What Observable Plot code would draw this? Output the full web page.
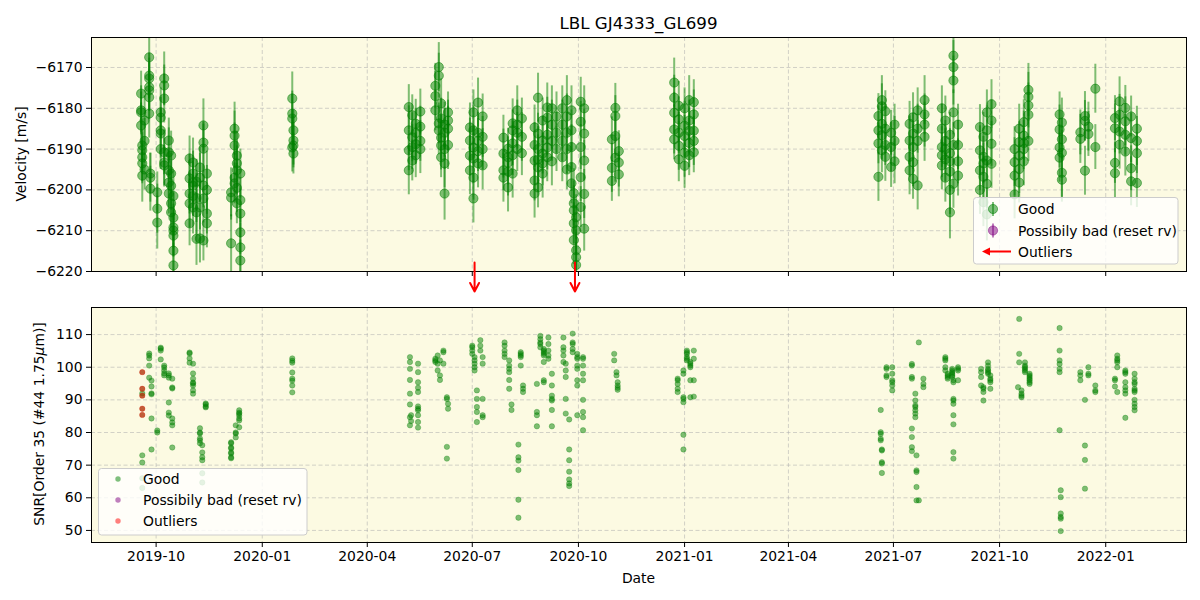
<!DOCTYPE html>
<html><head><meta charset="utf-8">
<script src="https://cdn.jsdelivr.net/npm/d3@7"></script>
<script src="https://cdn.jsdelivr.net/npm/@observablehq/plot@0.6"></script>
<style>
body{margin:0;background:#fff;}
#wrap{position:relative;width:1200px;height:600px;font-family:"DejaVu Sans",sans-serif;}
#wrap > svg, #wrap > div{position:absolute;left:0;}
</style></head><body><div id="wrap"></div>
<script>
// ---------- DATA ----------
const chartTitle = "LBL GJ4333_GL699";
const monthTickLabels = ["2019-10","2020-01","2020-04","2020-07","2020-10","2021-01","2021-04","2021-07","2021-10","2022-01"];
const rvTicks = [-6220,-6210,-6200,-6190,-6180,-6170];
const snrTicks = [50,60,70,80,90,100,110];
const dateRange = ["2019-08-06","2022-03-12"];
const rvRange = [-6220,-6162.65];
const snrRange = [46.3,118.3];
const outlierDates = ["2020-07-03","2020-09-28"];

// velocity: [date, rv, err]
const rv2019 = [
["2019-09-18",-6176.4,5.5],["2019-09-18",-6180.5,6],["2019-09-18",-6181,5],["2019-09-18",-6184.2,5.5],
["2019-09-19",-6189.1,6.5],["2019-09-19",-6190.3,5],["2019-09-19",-6192,6],["2019-09-19",-6193.5,5],["2019-09-19",-6196.5,6.5],
["2019-09-21",-6195,5],["2019-09-21",-6183,6],["2019-09-21",-6188,5.5],
["2019-09-25",-6167.5,6],["2019-09-25",-6172,5.5],["2019-09-25",-6172.7,5],["2019-09-25",-6174.8,6],["2019-09-25",-6175.6,5],["2019-09-25",-6177.3,5.5],["2019-09-25",-6181.3,6],
["2019-09-26",-6196,5],["2019-09-26",-6197,6],["2019-09-26",-6199.7,5.5],
["2019-10-02",-6200.6,5],["2019-10-02",-6204.6,6],["2019-10-02",-6208,6.5],
["2019-10-05",-6181,6],["2019-10-05",-6182.3,5],["2019-10-05",-6185.4,5.5],["2019-10-05",-6186.2,6],["2019-10-05",-6190,5],
["2019-10-08",-6172.7,6.5],["2019-10-08",-6174.4,5],["2019-10-08",-6177.6,6],["2019-10-08",-6190.8,5.5],["2019-10-08",-6193.3,6],["2019-10-08",-6194,5],
["2019-10-12",-6187.9,5.5],["2019-10-12",-6190.8,6],["2019-10-12",-6195.2,5],["2019-10-12",-6198.2,6.5],["2019-10-12",-6200.9,5],
["2019-10-14",-6191.6,6],["2019-10-14",-6196,5],["2019-10-14",-6203.3,6],["2019-10-14",-6205.5,5.5],["2019-10-14",-6199,6],
["2019-10-16",-6206.8,6],["2019-10-16",-6209.2,5],["2019-10-16",-6210,6.5],["2019-10-16",-6211.2,5],["2019-10-16",-6214.9,6],["2019-10-16",-6218.5,5.5],["2019-10-16",-6201.5,6],
["2019-10-30",-6192.3,5.5],["2019-10-30",-6197.2,6],["2019-10-30",-6200.9,5],["2019-10-30",-6203.3,6],["2019-10-30",-6208.2,5.5],
["2019-11-02",-6193.3,6],["2019-11-02",-6198.2,5],["2019-11-02",-6204.3,6.5],["2019-11-02",-6196,5.5],["2019-11-02",-6199,6],["2019-11-02",-6201.5,5],
["2019-11-05",-6205.5,5.5],["2019-11-05",-6202,6],["2019-11-05",-6212,6.5],["2019-11-05",-6198,5.5],
["2019-11-08",-6194.5,5],["2019-11-08",-6197,6],["2019-11-08",-6204.3,5.5],["2019-11-08",-6211.9,6],
["2019-11-11",-6184.2,6.5],["2019-11-11",-6188.4,5],["2019-11-11",-6189.9,6],["2019-11-11",-6198.9,5.5],["2019-11-11",-6202.1,6],["2019-11-11",-6212.4,5],
["2019-11-14",-6196,5.5],["2019-11-14",-6200,6],["2019-11-14",-6205.8,5],["2019-11-14",-6208.2,6],
["2019-12-05",-6213.1,7],["2019-12-05",-6200.6,6],["2019-12-05",-6201.9,5.5],
["2019-12-08",-6185,6.5],["2019-12-08",-6186.7,6],["2019-12-08",-6189.1,5.5],["2019-12-08",-6197,6],["2019-12-08",-6198.4,5],
["2019-12-10",-6191.6,6],["2019-12-10",-6193.5,5.5],["2019-12-10",-6195.2,6],["2019-12-10",-6203.3,5],["2019-12-10",-6199.5,6],
["2019-12-13",-6205.8,6],["2019-12-13",-6210.4,5.5],["2019-12-13",-6214.1,6],["2019-12-13",-6217.3,5],["2019-12-13",-6196,6],["2019-12-13",-6202.5,5.5],
["2020-01-27",-6177.6,6.5],["2020-01-27",-6181.3,5.5],["2020-01-27",-6182.5,6],["2020-01-28",-6185.4,5],["2020-01-28",-6187.9,6],["2020-01-28",-6189.1,5.5],["2020-01-27",-6189.6,6],["2020-01-28",-6191.1,5]
];
const rv2020 = [
["2020-05-07",-6179.7,5.5],["2020-05-07",-6185.4,6],["2020-05-07",-6190.3,5],["2020-05-07",-6195.2,6],
["2020-05-10",-6181.7,5],["2020-05-10",-6187.1,6],["2020-05-10",-6189.5,5.5],["2020-05-10",-6192.8,5],
["2020-05-13",-6183.8,6],["2020-05-13",-6188.8,5],["2020-05-13",-6191.5,5.5],["2020-05-13",-6186,6],
["2020-05-17",-6180.8,5.5],["2020-05-17",-6188,5],["2020-05-17",-6190,6],["2020-05-17",-6184.5,5],
["2020-05-30",-6174.5,5.5],["2020-05-30",-6177,6],["2020-05-30",-6180.5,5],
["2020-06-02",-6169.9,6],["2020-06-02",-6172,5.5],["2020-06-02",-6183.7,5],["2020-06-02",-6185.4,6],
["2020-06-04",-6178.8,6],["2020-06-04",-6182.5,5],["2020-06-04",-6187.2,5.5],["2020-06-04",-6189.1,6],["2020-06-04",-6192,5],
["2020-06-07",-6184,5.5],["2020-06-07",-6186,6],["2020-06-07",-6190,5],["2020-06-07",-6193.5,6],["2020-06-07",-6200.9,6.5],
["2020-06-10",-6181,5],["2020-06-10",-6185,5.5],["2020-06-10",-6189,6],["2020-06-10",-6183,5],
["2020-06-29",-6184.7,6],["2020-06-29",-6187.9,5.5],["2020-06-29",-6191.6,5],["2020-06-29",-6195.2,6],
["2020-07-02",-6181,5.5],["2020-07-02",-6185.4,6],["2020-07-02",-6189.6,5],["2020-07-02",-6192.3,6],["2020-07-02",-6197,5.5],["2020-07-02",-6202.1,6],
["2020-07-06",-6178.6,6],["2020-07-06",-6186,5],["2020-07-06",-6188,5.5],["2020-07-06",-6193.5,6],["2020-07-06",-6190.5,5],
["2020-07-10",-6182,5.5],["2020-07-10",-6190,5],["2020-07-10",-6194,6],["2020-07-10",-6187,5],
["2020-07-28",-6187.2,5.5],["2020-07-28",-6191.1,6],["2020-07-28",-6195.2,5],["2020-07-28",-6197,6],
["2020-08-01",-6189.9,5],["2020-08-01",-6193.3,5.5],["2020-08-01",-6199.4,6],["2020-08-01",-6192,5],["2020-08-01",-6195.5,6],
["2020-08-05",-6183.7,6],["2020-08-05",-6185.4,5],["2020-08-05",-6188.6,5.5],["2020-08-05",-6196,6],["2020-08-05",-6191.5,5],
["2020-08-09",-6180.5,6],["2020-08-09",-6186,5],["2020-08-09",-6190,5.5],["2020-08-09",-6184,6],
["2020-08-13",-6182.5,5],["2020-08-13",-6187,6],["2020-08-13",-6191,5.5],
["2020-08-24",-6184.7,5.5],["2020-08-24",-6192.8,6],["2020-08-24",-6197.7,5],["2020-08-24",-6200.9,6],["2020-08-24",-6189,5.5],
["2020-08-27",-6177.4,6],["2020-08-27",-6186.2,5],["2020-08-27",-6190,5.5],["2020-08-27",-6194.5,6],["2020-08-27",-6199.4,5],["2020-08-27",-6192.5,6],
["2020-08-31",-6183,5.5],["2020-08-31",-6187.9,6],["2020-08-31",-6191.1,5],["2020-08-31",-6196,6],["2020-08-31",-6193.5,5.5],
["2020-09-04",-6179.8,6],["2020-09-04",-6182.3,5],["2020-09-04",-6189.6,5.5],["2020-09-04",-6192,6],["2020-09-04",-6186.5,5],
["2020-09-08",-6180,5.5],["2020-09-08",-6184,6],["2020-09-08",-6188,5],["2020-09-08",-6193,6],
["2020-09-12",-6182,6],["2020-09-12",-6186,5],["2020-09-12",-6190,5.5],
["2020-09-17",-6180,5.5],["2020-09-17",-6184,6],["2020-09-17",-6188,5],["2020-09-17",-6192,6],
["2020-09-21",-6178,6],["2020-09-21",-6182,5.5],["2020-09-21",-6186,5],["2020-09-21",-6190,6],["2020-09-21",-6195,5],
["2020-09-25",-6180.5,6],["2020-09-25",-6185.4,5],["2020-09-25",-6189.5,5.5],["2020-09-25",-6194.4,6],["2020-09-25",-6198.4,5],
["2020-09-27",-6200.8,6],["2020-09-27",-6203.3,5.5],["2020-09-27",-6205,6],["2020-09-27",-6208.2,5],["2020-09-27",-6212.3,6],
["2020-09-29",-6206.7,5.5],["2020-09-29",-6209.9,6],["2020-09-29",-6214.8,5],["2020-09-29",-6216.5,6],["2020-09-29",-6218.4,5.5],
["2020-10-03",-6178.4,6],["2020-10-03",-6183.3,5],["2020-10-03",-6189.5,5.5],["2020-10-03",-6196.9,6],["2020-10-03",-6204.2,5],
["2020-10-06",-6180,5.5],["2020-10-06",-6186.2,6],["2020-10-06",-6192.8,5],["2020-10-06",-6201,6],["2020-10-06",-6209.5,5.5],
["2020-10-30",-6187.6,5.5],["2020-10-30",-6194.6,6],["2020-10-30",-6197.8,5],
["2020-11-02",-6179.9,6],["2020-11-02",-6181.9,5],["2020-11-02",-6186.8,5.5],["2020-11-02",-6192.1,6],
["2020-11-05",-6190.5,5],["2020-11-05",-6193.3,6],["2020-11-05",-6196.2,5.5],
["2020-12-23",-6173.7,6],["2020-12-23",-6177.4,5.5],["2020-12-23",-6181.1,5],["2020-12-23",-6185.2,6],["2020-12-23",-6187.6,5],
["2020-12-27",-6179.4,6],["2020-12-27",-6182.7,5.5],["2020-12-27",-6186,5],["2020-12-27",-6189.2,6],["2020-12-27",-6192.5,5.5],
["2021-01-01",-6180,5],["2021-01-01",-6184.3,6],["2021-01-01",-6186.8,5],["2021-01-01",-6190.9,6],["2021-01-01",-6194.1,5.5],
["2021-01-05",-6178,6],["2021-01-05",-6183,5],["2021-01-05",-6185.5,5.5],["2021-01-05",-6188.5,6],["2021-01-05",-6191.5,5],
["2021-01-09",-6178.5,5.5],["2021-01-09",-6181.5,6],["2021-01-09",-6185.5,5],["2021-01-09",-6188,6],["2021-01-09",-6190.8,5]
];
const rv2021 = [
["2021-06-18",-6181.9,5.5],["2021-06-18",-6185.4,6],["2021-06-18",-6188.6,5],["2021-06-18",-6196.8,6],
["2021-06-21",-6178,6],["2021-06-21",-6179.5,5.5],["2021-06-21",-6183.8,5],["2021-06-21",-6186.6,6],["2021-06-21",-6190.3,5.5],
["2021-06-24",-6180.7,5],["2021-06-24",-6185,6],["2021-06-24",-6189,5],["2021-06-24",-6191.9,6],
["2021-06-29",-6186,5.5],["2021-06-29",-6189.5,6],["2021-06-29",-6194.4,5],
["2021-07-02",-6184,5],["2021-07-02",-6188,6],["2021-07-02",-6193,5.5],
["2021-07-15",-6183.8,5.5],["2021-07-15",-6187.9,6],["2021-07-15",-6191.9,5],["2021-07-15",-6195.2,6],
["2021-07-18",-6182.2,6],["2021-07-18",-6186.2,5],["2021-07-18",-6189.5,5.5],["2021-07-18",-6193.2,6],["2021-07-18",-6197.3,5],
["2021-07-22",-6180.5,5.5],["2021-07-22",-6185,6],["2021-07-22",-6188,5],["2021-07-22",-6198.9,6],
["2021-07-28",-6178,6],["2021-07-28",-6181.5,5],["2021-07-28",-6184,5.5],["2021-07-28",-6187,6],
["2021-08-12",-6180,5.5],["2021-08-12",-6185,6],["2021-08-12",-6189.5,5],["2021-08-12",-6194,6],["2021-08-12",-6191.5,5.5],
["2021-08-15",-6183,6],["2021-08-15",-6188,5],["2021-08-15",-6192.5,5.5],["2021-08-15",-6197,6],["2021-08-15",-6190,5],
["2021-08-19",-6186.5,5.5],["2021-08-19",-6191,6],["2021-08-19",-6195.5,5],["2021-08-19",-6200,6],["2021-08-19",-6205.5,6.5],["2021-08-19",-6193,5],
["2021-08-22",-6167.1,7],["2021-08-22",-6169.9,6.5],["2021-08-22",-6173.2,6],["2021-08-22",-6181,5.5],["2021-08-22",-6198.5,6],["2021-08-22",-6189,5.5],
["2021-08-26",-6184,5],["2021-08-26",-6189,6],["2021-08-26",-6193,5.5],["2021-08-26",-6196.5,5],
["2021-09-14",-6184.6,5.5],["2021-09-14",-6190.3,6],["2021-09-14",-6195.2,5],["2021-09-14",-6200,6],
["2021-09-17",-6187,6],["2021-09-17",-6191.9,5],["2021-09-17",-6196.8,5.5],["2021-09-17",-6203,6],["2021-09-17",-6193.5,5],
["2021-09-20",-6181,5.5],["2021-09-20",-6185.4,6],["2021-09-20",-6192.8,5],["2021-09-20",-6198.5,6],["2021-09-20",-6206,6.5],
["2021-09-24",-6179,6],["2021-09-24",-6183,5],["2021-09-24",-6188.7,5.5],["2021-09-24",-6193.6,6],
["2021-10-14",-6190,5.5],["2021-10-14",-6193.2,6],["2021-10-14",-6196.5,5],["2021-10-14",-6201.1,6],
["2021-10-18",-6185,6],["2021-10-18",-6188.3,5],["2021-10-18",-6191.6,5.5],["2021-10-18",-6194.9,6],["2021-10-18",-6198.2,5],
["2021-10-22",-6183.4,5.5],["2021-10-22",-6186.7,6],["2021-10-22",-6190,5],["2021-10-22",-6193,6],["2021-10-22",-6188.5,5.5],
["2021-10-26",-6175.5,6.5],["2021-10-26",-6177.2,6],["2021-10-26",-6179.3,5.5],["2021-10-26",-6181.6,6],["2021-10-26",-6188,5],
["2021-11-22",-6181.5,5.5],["2021-11-22",-6185.2,6],["2021-11-22",-6189.6,5],["2021-11-22",-6192.1,6],
["2021-11-24",-6183.5,6],["2021-11-24",-6187.6,5],["2021-11-24",-6190.9,5.5],["2021-11-24",-6195.8,6],["2021-11-24",-6197.5,5.5],
["2021-12-10",-6185.9,5.5],["2021-12-10",-6187.5,6],["2021-12-14",-6181.9,6],["2021-12-14",-6183.1,5],["2021-12-14",-6195.3,6],
["2021-12-17",-6186.3,5.5],["2021-12-17",-6184.5,6],["2021-12-23",-6175.2,6],["2021-12-23",-6189.5,5.5],
["2022-01-09",-6182.4,5.5],["2022-01-09",-6184.9,6],["2022-01-09",-6193.4,5],["2022-01-09",-6195.9,6],
["2022-01-13",-6178.3,6],["2022-01-13",-6181.6,5],["2022-01-13",-6185.7,5.5],["2022-01-13",-6188.9,6],
["2022-01-18",-6179.9,5.5],["2022-01-18",-6183.2,6],["2022-01-18",-6186.5,5],["2022-01-18",-6190.6,6],
["2022-01-23",-6182,5],["2022-01-23",-6187.3,6],["2022-01-23",-6194.7,5.5],["2022-01-23",-6197.9,6],
["2022-01-28",-6185,5.5],["2022-01-28",-6188,6],["2022-01-28",-6191,5],["2022-01-28",-6198.3,6]
];

// SNR: [date, [values on that night]]
const snr2019 = [
["2019-09-19",[92,73,70.8,66,63]],
["2019-09-25",[104.2,103.6,102.7,100.5,96.8]],
["2019-09-27",[95.9,94.1,92,91.7,84.3,74.8]],
["2019-10-02",[80.6,80]],
["2019-10-05",[106,105.7,105.1,102.4]],
["2019-10-08",[100.5,99.9,99,98.1,97.5]],
["2019-10-12",[98.1,97.5,96.8,89.2,86.1,85.2]],
["2019-10-15",[96.5,93.8,93.5,84.3,83.1,82.2,75.4]],
["2019-10-30",[104.5,104.2,102.7,101.4]],
["2019-11-02",[101.1,98.1,96.5,95.3,95,94.4,92.9,91.9]],
["2019-11-08",[81.3,80,79.7,78.2,77.6,76.7]],
["2019-11-10",[76.1,73.9,72.4,71.5,67.5,64.7]],
["2019-11-13",[88.9,87.7,88.6,88]],
["2019-12-05",[77,76.7,75.4,75.1,73.9,73.6,72.4,72.1]],
["2019-12-09",[80,79.7,78.5,82.2]],
["2019-12-12",[86.8,86.1,85.8,85.2,84.3,83.7,81.6]],
["2020-01-27",[102.7,102,101.4,98.4,96.5,95.9,94.4,92.3]]
];
const snr2020 = [
["2020-05-08",[103.1,101.6,99.5,96.1,91.9,88.6,84.7,82.2]],
["2020-05-09",[85.3,83.5]],
["2020-05-15",[101.1,98.5,95.4,93.7,92.4,88,87.3,86.8,85.3,83.2,81.5]],
["2020-05-30",[102.6,102.1,101.6]],
["2020-06-01",[103.6,101.1,99]],
["2020-06-03",[102.1,97.5,96.1]],
["2020-06-06",[105.1,104.6,101.1]],
["2020-06-09",[90.8,90.3,75.6,72]],
["2020-06-10",[88.8,87.3]],
["2020-07-01",[106.6,106.1,105.1,104.1]],
["2020-07-03",[103.1,102.1,101.1,100,99]],
["2020-07-05",[92.9,90.3,87.8,86.3,83.2]],
["2020-07-08",[108.3,106.6,105.1]],
["2020-07-10",[103.1,101.1,90.3,85.3,84.7]],
["2020-07-29",[107.6,106.6,105.1,104.1,103.1]],
["2020-08-02",[102.1,100.5,99.5,98.5,96.1,93.4]],
["2020-08-04",[88.6,86.9]],
["2020-08-10",[76.3,72.4,71.4,68.5,59.4,53.9]],
["2020-08-12",[104.6,104.1,103.6,103.1,100.5]],
["2020-08-14",[94.4,93.4,92.4]],
["2020-08-26",[94.9,86.3,85.3,81.9]],
["2020-08-29",[109.6,108.6,107.6,107.1,106.1]],
["2020-09-01",[105.6,105.1,104.6,104.1,103.6,101.6,96,95.4]],
["2020-09-05",[109.1,107.1,105.1,103.6,102.6]],
["2020-09-08",[98,94.4,91.3,90.3,89.8,86.9,81.9]],
["2020-09-18",[109.1,106.1,105.1,103.6,101.6]],
["2020-09-20",[101.1,99,97,90.3,85.8]],
["2020-09-23",[84,74.8,71.5,68,65.6,64.4,63.6]],
["2020-09-26",[110.3,107.6,107.1,105.6,104.6]],
["2020-09-30",[104.1,103.1,102.6,100.5,99.5,96,94.4,85.3]],
["2020-10-05",[103.1,102.6,100.5,98,96,90,86.3,84.7,80.7]],
["2020-11-01",[104.1,102.1]],
["2020-11-03",[98.5,97.5]],
["2020-11-04",[95.4,94.4,93.7,93.1]],
["2020-12-26",[96.5,96,94.9,93.4,92.4]],
["2020-12-31",[99,98,90.8,90.3,89.3,79.3,74.8]],
["2021-01-03",[105.1,104.6,104.1,103.1,102.6,102.1]],
["2021-01-06",[101.6,101.1,100.5,100,96,90.8]],
["2021-01-09",[105.1,102.6,96,91]]
];
const snr2021 = [
["2021-06-20",[86.9,80.1,79.6,78.1,77.6]],
["2021-06-21",[74.8,74.5,70.9,70.5,67.6]],
["2021-06-25",[100,99.5,97.5,97]],
["2021-06-30",[100,98,96,95.4,94.4,92.9]],
["2021-07-17",[101,100.5,97,96.5,81.2,78.6,75.5,74.3]],
["2021-07-20",[91.9,89.8,88.3,87.8,86.8,85.8,84.7]],
["2021-07-21",[73,68.4,67.9,63.3,59.2]],
["2021-07-23",[107.6,59.2]],
["2021-07-27",[96.5,94.9,93.9]],
["2021-08-15",[103.1,102.6,102.1,100,99]],
["2021-08-17",[98,97.5,97,96.5]],
["2021-08-21",[99.5,99,98.5,98,97.5,97]],
["2021-08-22",[96,95.4,90.3,89.8,88.8,85.3,82.5,74,72]],
["2021-08-26",[100,99.5,99,96]],
["2021-09-15",[99.5,98.5,97,94.4]],
["2021-09-17",[93.9,93.4,92.4,89.8]],
["2021-09-21",[101.5,100.5,99.5,99,98.5,98]],
["2021-09-23",[97.5,96.5,96,95.4,93.4]],
["2021-10-17",[93.9]],
["2021-10-18",[114.8,104.1,101.5]],
["2021-10-20",[92.9,91.9,91.3,90.8]],
["2021-10-23",[101.5,100.5,100,99.5,99,98.5]],
["2021-10-27",[98,97.5,97,96.5,96,95.4,94.9]],
["2021-11-22",[112,105.1,102.1,101,99.5,98.5,80.7]],
["2021-11-23",[62.3,60.2,55.2,54.1,53.6,49.8]],
["2021-12-10",[98.5,97.5,96]],
["2021-12-14",[90,76,71.6,62.8]],
["2021-12-17",[100,98,97.5]],
["2021-12-23",[94.4,92.9,92.4]],
["2022-01-09",[96.5,96,94.1]],
["2022-01-11",[103.6,102.6,102.1,101.5,100,92.4]],
["2022-01-18",[99,98.5,98,95.4,93.9,92.9,91.9,84.5]],
["2022-01-26",[98,96.5,95.4,94.9,93.4,92.9,92.4,90,88.8,87.8,86.8]]
];
const snrOutliers = [["2019-09-19",[98.5,93.4,91.3,87.3,85.4]]];

// ---------- BUILD ----------
const pd = d3.utcParse("%Y-%m-%d");
const pm = d3.utcParse("%Y-%m");
const xDomain = dateRange.map(pd);
const monthTicks = monthTickLabels.map(pm);
const rvData = [...rv2019, ...rv2020, ...rv2021].map(([d, v, e]) => ({date: pd(d), v, e}));
const flat = arr => arr.flatMap(([d, vals]) => vals.map(s => ({date: pd(d), s})));
const snrData = flat([...snr2019, ...snr2020, ...snr2021]);
const snrOut = flat(snrOutliers);
const arrows = outlierDates.map(pd);

const bg = "#fcfae2";
const gridStyle = {stroke: "#b0b0b0", strokeOpacity: 0.7, strokeDasharray: "4,2.5", strokeWidth: 0.8};
const font = {fontFamily: "'DejaVu Sans', sans-serif", fontSize: "13.9px", background: "transparent", overflow: "visible", color: "black"};
const W = 1200, ML = 91, MR = 14;
const numFmt = d3.format("d");

const topPlot = Plot.plot({
  width: W, height: 300, marginLeft: ML, marginRight: MR, marginTop: 37, marginBottom: 29,
  style: font,
  x: {type: "utc", domain: xDomain},
  y: {domain: rvRange},
  marks: [
    Plot.frame({fill: bg, stroke: null}),
    Plot.gridX(monthTicks, gridStyle),
    Plot.gridY(rvTicks, gridStyle),
    Plot.ruleX(rvData, {x: "date", y1: d => d.v - d.e, y2: d => d.v + d.e, stroke: "green", strokeOpacity: 0.5, strokeWidth: 2, clip: true}),
    Plot.dot(rvData, {x: "date", y: "v", r: 4.6, fill: "green", fillOpacity: 0.5, stroke: "green", strokeOpacity: 0.5, strokeWidth: 1, clip: true}),
    Plot.axisX(monthTicks, {tickFormat: () => "", tickSize: 5, label: null}),
    Plot.axisY(rvTicks, {tickSize: 5, tickPadding: 4, tickFormat: numFmt, label: null}),
    Plot.frame({stroke: "black", strokeWidth: 1}),
    Plot.arrow(arrows, {x1: d => d, x2: d => d, y1: () => rvRange[0] + 2.2, y2: () => rvRange[0] - 4.9, stroke: "red", strokeWidth: 2, headLength: 9, headAngle: 55})
  ]
});
topPlot.style.top = "0px";

const botPlot = Plot.plot({
  width: W, height: 300, marginLeft: ML, marginRight: MR, marginTop: 7, marginBottom: 58,
  style: font,
  x: {type: "utc", domain: xDomain},
  y: {domain: snrRange},
  marks: [
    Plot.frame({fill: bg, stroke: null}),
    Plot.gridX(monthTicks, gridStyle),
    Plot.gridY(snrTicks, gridStyle),
    Plot.dot(snrData, {x: "date", y: "s", r: 2.7, fill: "green", fillOpacity: 0.5, stroke: "green", strokeOpacity: 0.35, strokeWidth: 0.8, clip: true}),
    Plot.dot(snrOut, {x: "date", y: "s", r: 2.7, fill: "green", fillOpacity: 0.5, clip: true}),
    Plot.dot(snrOut, {x: "date", y: "s", r: 2.7, fill: "red", fillOpacity: 0.5, stroke: "red", strokeOpacity: 0.35, strokeWidth: 0.8, clip: true}),
    Plot.axisX(monthTicks, {tickFormat: d3.utcFormat("%Y-%m"), tickSize: 5, tickPadding: 4, label: null}),
    Plot.axisY(snrTicks, {tickSize: 5, tickPadding: 4, tickFormat: numFmt, label: null}),
    Plot.frame({stroke: "black", strokeWidth: 1})
  ]
});
botPlot.style.top = "300px";

const wrap = document.getElementById("wrap");
wrap.appendChild(topPlot);
wrap.appendChild(botPlot);

// ---------- overlay text & legends ----------
const ov = d3.create("svg").attr("width", W).attr("height", 600)
  .style("position", "absolute").style("top", "0px").style("left", "0px")
  .style("font-family", "'DejaVu Sans', sans-serif").style("font-size", "13.9px");
const cx = (ML + (W - MR)) / 2;
ov.append("text").attr("x", cx).attr("y", 23).attr("text-anchor", "middle").attr("dominant-baseline", "central")
  .style("font-size", "16.7px").text(chartTitle);
ov.append("text").attr("transform", "translate(21,154) rotate(-90)").attr("text-anchor", "middle").attr("dominant-baseline", "central").text("Velocity [m/s]");
const sl = ov.append("text").attr("transform", "translate(39,424) rotate(-90)").attr("text-anchor", "middle").attr("dominant-baseline", "central");
sl.append("tspan").text("SNR[Order 35 (#44 1.75");
sl.append("tspan").style("font-style", "italic").text("μ");
sl.append("tspan").text("m)]");
ov.append("text").attr("x", cx).attr("y", 578).attr("text-anchor", "middle").attr("dominant-baseline", "central").text("Date");

const legendLabels = ["Good", "Possibily bad (reset rv)", "Outliers"];
const legendColors = ["green", "purple", "red"];
const lt = ov.append("g");
lt.append("rect").attr("x", 973.5).attr("y", 197.5).attr("width", 204.5).attr("height", 66.5).attr("rx", 3)
  .attr("fill", "white").attr("fill-opacity", 0.8).attr("stroke", "#cccccc");
[209, 230.5, 251.5].forEach((yy, i) => {
  if (i < 2) {
    lt.append("line").attr("x1", 993).attr("x2", 993).attr("y1", yy - 7).attr("y2", yy + 7)
      .attr("stroke", legendColors[i]).attr("stroke-opacity", 0.5).attr("stroke-width", 2);
    lt.append("circle").attr("cx", 993).attr("cy", yy).attr("r", 4.6).attr("fill", legendColors[i]).attr("fill-opacity", 0.5)
      .attr("stroke", legendColors[i]).attr("stroke-opacity", 0.5);
  } else {
    lt.append("line").attr("x1", 1011).attr("x2", 988).attr("y1", yy).attr("y2", yy).attr("stroke", "red").attr("stroke-width", 2);
    lt.append("path").attr("d", `M982,${yy} L990,${yy - 4} L990,${yy + 4} Z`).attr("fill", "red");
  }
  lt.append("text").attr("x", 1018).attr("y", yy).attr("dominant-baseline", "central").text(legendLabels[i]);
});
const lb = ov.append("g");
lb.append("rect").attr("x", 98.5).attr("y", 468.5).attr("width", 208.5).attr("height", 66.5).attr("rx", 3)
  .attr("fill", "white").attr("fill-opacity", 0.8).attr("stroke", "#cccccc");
[479, 500, 521].forEach((yy, i) => {
  lb.append("circle").attr("cx", 118).attr("cy", yy).attr("r", 2.7).attr("fill", legendColors[i]).attr("fill-opacity", 0.5);
  lb.append("text").attr("x", 143).attr("y", yy).attr("dominant-baseline", "central").text(legendLabels[i]);
});
wrap.appendChild(ov.node());
</script>
</body></html>
